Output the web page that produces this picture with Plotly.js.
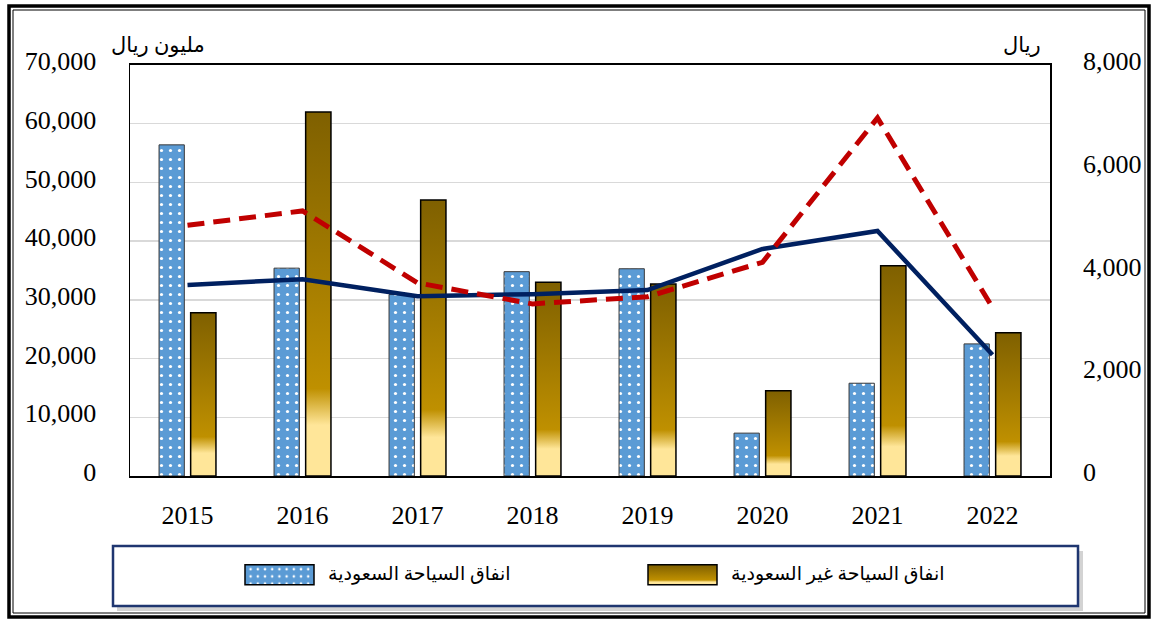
<!DOCTYPE html>
<html>
<head>
<meta charset="utf-8">
<script src="https://cdn.plot.ly/plotly-3.0.1.min.js"></script>
<style>
  html, body { margin: 0; padding: 0; background: #ffffff; }
  #chart { width: 1153px; height: 621px; }
</style>
</head>
<body>
<div id="chart"></div>
<script>
// ---- data ----
const years = ['2015', '2016', '2017', '2018', '2019', '2020', '2021', '2022'];
const saudiSpend = [56400, 35400, 30900, 34800, 35300, 7300, 15800, 22500];       // مليون ريال
const nonSaudiSpend = [27800, 62000, 47000, 33000, 32700, 14500, 35800, 24400];   // مليون ريال
const avgSaudi = [3720, 3830, 3500, 3540, 3620, 4420, 4770, 2360];                // ريال
const avgNonSaudi = [4880, 5160, 3760, 3350, 3490, 4160, 6970, 3280];             // ريال
const seriesNames = ['انفاق السياحة السعودية', 'انفاق السياحة غير السعودية'];
const lineNames = ['متوسط الإنفاق - السياحة السعودية', 'متوسط الإنفاق - السياحة غير السعودية'];
const leftTitle = 'مليون ريال';
const rightTitle = 'ريال';

// ---- geometry helpers (plot area 130..1050 x 65..476) ----
const L = 130, R = 1050, T = 65, B = 476;
const px = x => (x - L) / (R - L);
const py = y => (B - y) / (B - T);

const tickFont = { family: 'Liberation Serif, DejaVu Serif, serif', size: 26, color: '#000000' };
const arFont = { family: 'Liberation Serif, DejaVu Sans, sans-serif', size: 19, color: '#000000' };

const traces = [
  {
    type: 'bar', name: seriesNames[0], x: years, y: saudiSpend, yaxis: 'y',
    marker: {
      color: '#5b9bd5',
      line: { color: '#3a3a3a', width: 1 },
      pattern: { shape: '.', fgcolor: '#ffffff', bgcolor: '#5b9bd5', size: 9, solidity: 0.1 }
    },
    hoverinfo: 'skip'
  },
  {
    type: 'bar', name: seriesNames[1], x: years, y: nonSaudiSpend, yaxis: 'y',
    marker: { color: '#a67c00', line: { color: '#000000', width: 1.5 } },
    hoverinfo: 'skip'
  },
  {
    type: 'scatter', mode: 'lines', name: lineNames[0], x: years, y: avgSaudi, yaxis: 'y2',
    line: { color: '#002060', width: 4.5 }, showlegend: false, hoverinfo: 'skip'
  },
  {
    type: 'scatter', mode: 'lines', name: lineNames[1], x: years, y: avgNonSaudi, yaxis: 'y2',
    line: { color: '#c00000', width: 5, dash: '17px,9px' }, showlegend: false, hoverinfo: 'skip'
  }
];

const layout = {
  width: 1153, height: 621,
  margin: { l: L, r: 1153 - R, t: T, b: 621 - B, autoexpand: false },
  paper_bgcolor: '#ffffff', plot_bgcolor: '#ffffff',
  barmode: 'group', bargap: 0.45, bargroupgap: 0.2,
  showlegend: true,
  xaxis: {
    type: 'category', showline: true, linecolor: '#000000', linewidth: 2, mirror: true,
    ticks: '', tickfont: tickFont, ticklabelstandoff: 15, showgrid: false, zeroline: false
  },
  yaxis: {
    range: [0, 70000], dtick: 10000, tickformat: ',d', tickfont: tickFont,
    showgrid: true, gridcolor: '#d9d9d9', gridwidth: 1.5,
    showline: true, linecolor: '#000000', linewidth: 1.5, mirror: true,
    ticks: '', ticklabelstandoff: 27, ticklabelshift: -4, zeroline: false
  },
  yaxis2: {
    overlaying: 'y', side: 'right', range: [0, 8000], dtick: 2000, tickformat: ',d',
    tickfont: tickFont, showgrid: false, showline: false, ticks: '',
    ticklabelstandoff: 32, ticklabelshift: -4, zeroline: false
  },
  legend: {
    orientation: 'h', x: px(238), y: py(573), xanchor: 'left', yanchor: 'middle',
    bgcolor: 'rgba(0,0,0,0)', borderwidth: 0, font: arFont,
    entrywidth: 308, entrywidthmode: 'pixels', itemwidth: 80, traceorder: 'normal'
  },
  annotations: [
    { xref: 'paper', yref: 'paper', x: px(158), y: py(45), text: leftTitle, showarrow: false,
      xanchor: 'center', yanchor: 'middle', font: { family: 'Liberation Serif, DejaVu Sans, sans-serif', size: 21, color: '#000' } },
    { xref: 'paper', yref: 'paper', x: px(1022), y: py(45), text: rightTitle, showarrow: false,
      xanchor: 'center', yanchor: 'middle', font: { family: 'Liberation Serif, DejaVu Sans, sans-serif', size: 21, color: '#000' } }
  ],
  shapes: [
    // outer double frame
    { type: 'rect', xref: 'paper', yref: 'paper', layer: 'below',
      x0: px(9), x1: px(1149), y0: py(617), y1: py(6), line: { color: '#000', width: 3.5 } },
    { type: 'rect', xref: 'paper', yref: 'paper', layer: 'below',
      x0: px(13), x1: px(1145), y0: py(613), y1: py(10), line: { color: '#000', width: 1 } },
    // legend shadow + box
    { type: 'rect', xref: 'paper', yref: 'paper', layer: 'below',
      x0: px(117), x1: px(1083), y0: py(611), y1: py(551), fillcolor: '#c8c8c8', line: { width: 0 }, opacity: 0.8 },
    { type: 'rect', xref: 'paper', yref: 'paper', layer: 'below',
      x0: px(113), x1: px(1078), y0: py(606), y1: py(546), fillcolor: '#ffffff', line: { color: '#1f3670', width: 2.5 } }
  ],
  hovermode: false
};

Plotly.newPlot('chart', traces, layout, { displayModeBar: false, staticPlot: true }).then(gd => {
  const svg = gd.querySelector('svg.main-svg');
  let defs = svg.querySelector('defs');
  const NS = 'http://www.w3.org/2000/svg';
  const grad = document.createElementNS(NS, 'linearGradient');
  grad.setAttribute('id', 'goldGrad');
  grad.setAttribute('x1', '0'); grad.setAttribute('y1', '0');
  grad.setAttribute('x2', '0'); grad.setAttribute('y2', '1');
  [['0', '#7f6000'], ['0.76', '#bf9000'], ['0.86', '#ffe699'], ['1', '#ffe699']].forEach(([o, c]) => {
    const s = document.createElementNS(NS, 'stop');
    s.setAttribute('offset', o); s.setAttribute('stop-color', c);
    grad.appendChild(s);
  });
  defs.appendChild(grad);

  const barTraces = gd.querySelectorAll('.barlayer .trace.bars');
  if (barTraces[1]) barTraces[1].querySelectorAll('path').forEach(p => { p.style.fill = 'url(#goldGrad)'; });

  const legItems = gd.querySelectorAll('.legend .traces');
  legItems.forEach((it, i) => {
    const p = it.querySelector('.legendpoints path');
    if (p) {
      p.setAttribute('d', 'M31,12H-38V-8H31Z');
      if (i === 1) p.style.fill = 'url(#goldGrad)';
      p.style.strokeWidth = '1.5px';
      p.style.stroke = '#000';
    }
  });
});
</script>
</body>
</html>
